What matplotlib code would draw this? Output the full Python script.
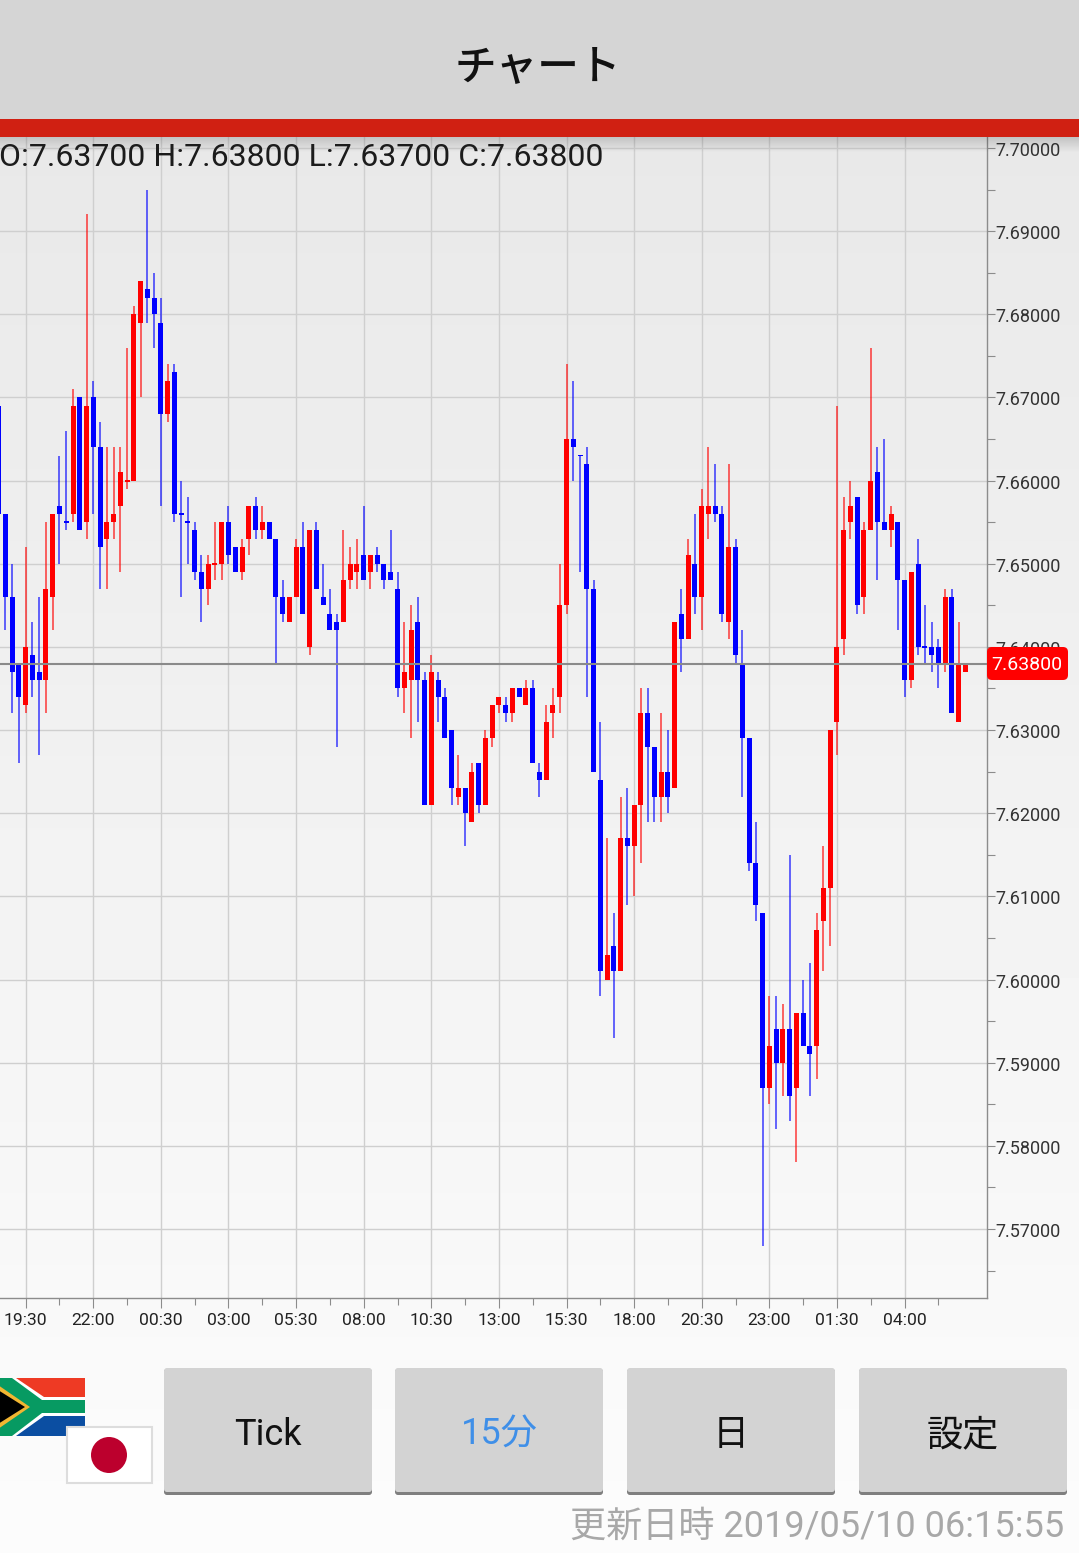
import numpy as np
import matplotlib
matplotlib.use("Agg")
import matplotlib.pyplot as plt
from matplotlib import ticker
from matplotlib.patches import FancyBboxPatch, Polygon, Rectangle, Circle
from matplotlib.transforms import ScaledTranslation

W, H = 1079, 1553
FAMILY = ['Roboto', 'Noto Sans CJK JP', 'DejaVu Sans']
plt.rcParams['font.family'] = FAMILY

# prices in 1/1000 above 7.000, 15 minute bars
opens = [669, 656, 646, 638, 633, 639, 637, 636, 646, 657,
         655, 656, 670, 655, 670, 664, 653, 655, 657, 659.9,
         660, 679, 683, 682, 679, 668, 673, 656, 655, 654,
         649, 647, 649.9, 650, 655, 652, 649, 653, 657, 654,
         655, 653, 646, 643, 646, 652, 640, 654, 646, 644,
         643, 643, 648, 649, 651, 649, 651, 650, 649, 647,
         635, 636, 643, 636, 621, 636, 634, 630, 622, 623,
         619, 626, 621, 629, 633, 633, 632, 635, 633, 635,
         625, 624, 632, 634, 645, 665, 663, 662, 647, 624,
         600, 604, 601, 617, 616, 621, 632, 628, 622, 625,
         623, 644, 641, 650, 646, 656, 657, 656, 643, 652,
         638, 629, 614, 608, 587, 594, 590, 594, 587, 596,
         592, 592, 607, 611, 631, 641, 655, 658, 646, 654,
         661, 655, 654, 655, 648, 636, 650, 640, 640, 640,
         638, 646, 631, 637]
closes = [656, 646, 637, 634, 640, 636, 636, 647, 656, 656,
          655, 669, 654, 669, 664, 652, 655, 656, 661, 660,
          680, 684, 682, 680, 668, 672, 656, 656, 655, 649,
          647, 650, 650, 655, 651, 649, 652, 657, 654, 655,
          653, 646, 644, 646, 652, 644, 654, 647, 645, 642,
          642, 648, 650, 650, 648, 651, 650, 648, 648, 635,
          637, 642, 636, 621, 637, 634, 629, 623, 623, 620,
          625, 621, 629, 633, 634, 632, 635, 634, 635, 626,
          624, 631, 633, 645, 665, 664, 663, 647, 625, 601,
          603, 601, 617, 616, 621, 632, 628, 622, 625, 622,
          643, 641, 651, 646, 657, 657, 656, 644, 652, 639,
          629, 614, 609, 587, 592, 590, 594, 586, 596, 592,
          591, 606, 611, 630, 640, 654, 657, 645, 654, 660,
          655, 654, 656, 648, 636, 649, 640, 640, 639, 638,
          646, 632, 638, 638]
highs = [669, 656, 650, 638, 652, 643, 646, 655, 656, 663,
         666, 671, 670, 692, 672, 667, 664, 664, 664, 676,
         681, 684, 695, 685, 682, 674, 674, 660, 658, 655,
         651, 651, 655, 655, 657, 652, 653, 657, 658, 657,
         655, 653, 648, 646, 653, 655, 654, 655, 650, 647,
         644, 654, 652, 653, 657, 651, 652, 650, 654, 649,
         643, 645, 646, 637, 639, 637, 635, 630, 627, 623,
         626, 626, 630, 633, 634, 634, 635, 635, 636, 636,
         626, 633, 635, 650, 674, 672, 663, 664, 648, 631,
         617, 608, 622, 623, 621, 635, 635, 628, 632, 630,
         643, 647, 653, 656, 659, 664, 662, 657, 662, 653,
         642, 629, 619, 608, 598, 598, 597, 615, 596, 600,
         602, 608, 616, 630, 669, 658, 660, 658, 655, 676,
         664, 665, 657, 655, 648, 649, 653, 645, 643, 641,
         647, 647, 643, 638]
lows = [656, 642, 632, 626, 632, 634, 627, 632, 642, 650,
        654, 655, 654, 653, 656, 647, 647, 653, 649, 659,
        660, 670, 679, 676, 657, 667, 655, 646, 650, 648,
        643, 645, 648, 648, 650, 649, 648, 651, 653, 653,
        653, 638, 643, 643, 646, 644, 639, 647, 645, 642,
        628, 643, 647, 647, 648, 647, 649, 647, 648, 634,
        632, 629, 631, 621, 621, 631, 629, 621, 621, 616,
        619, 620, 621, 628, 632, 631, 631, 634, 633, 626,
        622, 624, 629, 632, 644, 660, 649, 634, 625, 598,
        600, 593, 601, 609, 610, 614, 619, 619, 619, 620,
        623, 637, 641, 644, 642, 653, 655, 643, 641, 638,
        622, 613, 607, 568, 585, 582, 586, 583, 578, 592,
        586, 588, 601, 604, 627, 639, 653, 644, 644, 654,
        648, 654, 652, 642, 634, 635, 639, 638, 637, 635,
        637, 632, 631, 637]

time_labels = ['19:30', '22:00', '00:30', '03:00', '05:30', '08:00', '10:30',
               '13:00', '15:30', '18:00', '20:30', '23:00', '01:30', '04:00']
price_labels = [7.57, 7.58, 7.59, 7.60, 7.61, 7.62, 7.63, 7.64, 7.65, 7.66,
                7.67, 7.68, 7.69, 7.70]
button_labels = ['Tick', '15分', '日', '設定']
header = 'O:7.63700 H:7.63800 L:7.63700 C:7.63800'
updated = '更新日時 2019/05/10 06:15:55'

o, c, h, l = [7 + np.array(v) / 1000 for v in (opens, closes, highs, lows)]
bars = np.arange(len(o)) - 4
colors = ['#ff0000' if up else '#0000ff' for up in c > o]

fig = plt.figure(figsize=(W / 100, H / 100), dpi=100)

# background gradient
bg = fig.add_axes([0, 0, 1, 1], zorder=0)
bg.imshow(np.linspace(0.912, 0.988, 256).reshape(-1, 1), cmap='gray', vmin=0, vmax=1,
          aspect='auto', extent=(0, W, H, 137))
bg.set_xlim(0, W)
bg.set_ylim(H, 0)
bg.axis('off')

# chart area, 0..987 px across and 137..1298 px down
ax = fig.add_axes([0, 1 - 1298 / H, 987 / W, (1298 - 137) / H], zorder=1)
ax.patch.set_alpha(0)
ax.set_xlim(-3.8, 142.2)
ax.set_ylim(7.5617, 7.70132)
ax.set_axisbelow(True)
for name in ('left', 'top'):
    ax.spines[name].set_visible(False)
for name in ('right', 'bottom'):
    ax.spines[name].set_color('#8c8c8c')
    ax.spines[name].set_linewidth(1.0)

ax.yaxis.tick_right()
ax.set_yticks(price_labels)
ax.set_yticklabels(['%.5f' % p for p in price_labels])
ax.yaxis.set_minor_locator(ticker.FixedLocator(np.array(price_labels) - 0.005))
ax.set_xticks(np.arange(len(time_labels)) * 10)
ax.set_xticklabels(time_labels)
ax.set_xticks(np.arange(len(time_labels)) * 10 + 5, minor=True)
ax.grid(which='major', color='#cfcfcf', linewidth=1.0)
ax.tick_params(axis='y', which='both', length=6, width=0.8, color='#8c8c8c', pad=0.3,
               labelsize=13, labelcolor='#333333')
ax.tick_params(axis='x', which='major', length=7, width=0.8, color='#8c8c8c', pad=3.5,
               labelsize=12.6, labelcolor='#222222')
ax.tick_params(axis='x', which='minor', length=5, width=0.8, color='#8c8c8c')
# the screen's price labels sit a little under their grid lines
for label in ax.get_yticklabels():
    label.set_transform(label.get_transform() + ScaledTranslation(0, -1 / 100, fig.dpi_scale_trans))

# candles
ax.vlines(bars, l, h, colors=colors, linewidth=1.2, alpha=0.7, zorder=3)
tops = np.maximum(o, c)
bottoms = np.minimum(o, c)
heights = np.maximum(tops - bottoms, 0.00018)
ax.bar(bars, heights, bottom=(tops + bottoms - heights) / 2, width=0.74, color=colors,
       linewidth=0, zorder=4)

last = c[-1]
ax.axhline(last, color='#8a8a8a', linewidth=1.5, zorder=5)

# screen parts around the chart, in pixels
ui = fig.add_axes([0, 0, 1, 1], zorder=2)
ui.patch.set_alpha(0)
ui.set_xlim(0, W)
ui.set_ylim(H, 0)
ui.axis('off')

ui.add_patch(Rectangle((0, 0), W, 119, color='#d5d5d5', linewidth=0))
ui.add_patch(Rectangle((0, 119), W, 18, color='#d02012', linewidth=0))
shade = np.zeros((16, 1, 4))
shade[:, :, 3] = np.linspace(0.16, 0, 16).reshape(-1, 1)
ui.imshow(shade, aspect='auto', extent=(0, W, 153, 137), zorder=1)
ui.set_xlim(0, W)
ui.set_ylim(H, 0)
ui.text(538, 68, 'チャート', ha='center', va='center', fontsize=30, color='#111111',
        fontweight='medium', family=['Noto Sans CJK JP', 'DejaVu Sans'])
ui.text(-1, 158, header, ha='left', va='center', fontsize=23, color='#1c1c1c')

# price tag on the axis
ui.add_patch(FancyBboxPatch((990, 650), 75, 27, boxstyle='round,pad=3,rounding_size=5',
                            facecolor='#ff0000', edgecolor='none', zorder=3))
ui.text(1027, 665.5, '%.5f' % last, ha='center', va='center', fontsize=14, color='white', zorder=4)

# flags
ui.add_patch(Rectangle((0, 1378), 85, 58, color='white', linewidth=0))
ui.add_patch(Polygon([(16, 1378), (85, 1378), (85, 1397), (44, 1397)], color='#ee3a24', linewidth=0))
ui.add_patch(Polygon([(16, 1436), (85, 1436), (85, 1416), (44, 1416)], color='#0b4ea2', linewidth=0))
ui.add_patch(Polygon([(-2, 1378), (12, 1378), (42, 1400), (85, 1400), (85, 1413), (42, 1413),
                      (12, 1436), (-2, 1436)], color='#079a62', linewidth=0))
ui.add_patch(Polygon([(-2, 1385), (30, 1407), (-2, 1429)], color='#f2b632', linewidth=0))
ui.add_patch(Polygon([(-2, 1390), (25, 1407), (-2, 1424)], color='black', linewidth=0))
ui.add_patch(Rectangle((66.5, 1426.5), 85, 56, facecolor='white', edgecolor='#dddddd', linewidth=1.5))
ui.add_patch(Circle((109, 1455), 18, color='#bc002d', linewidth=0))

# buttons
for i, x0 in enumerate([164, 395, 627, 859]):
    ui.add_patch(FancyBboxPatch((x0 + 2, 1371), 204, 122, boxstyle='round,pad=2,rounding_size=3',
                                facecolor='#7f7f7f', edgecolor='none'))
    ui.add_patch(FancyBboxPatch((x0 + 2, 1370), 204, 120, boxstyle='round,pad=2,rounding_size=3',
                                facecolor='#d3d3d3', edgecolor='none'))
    ui.text(x0 + 104, 1435, button_labels[i], ha='center', va='center', fontsize=26,
            color='#3f8fe8' if button_labels[i] == '15分' else '#111111')

ui.text(1064, 1527, updated, ha='right', va='center', fontsize=26, color='#a8a8a8')

fig.savefig('out.png', dpi=100)
